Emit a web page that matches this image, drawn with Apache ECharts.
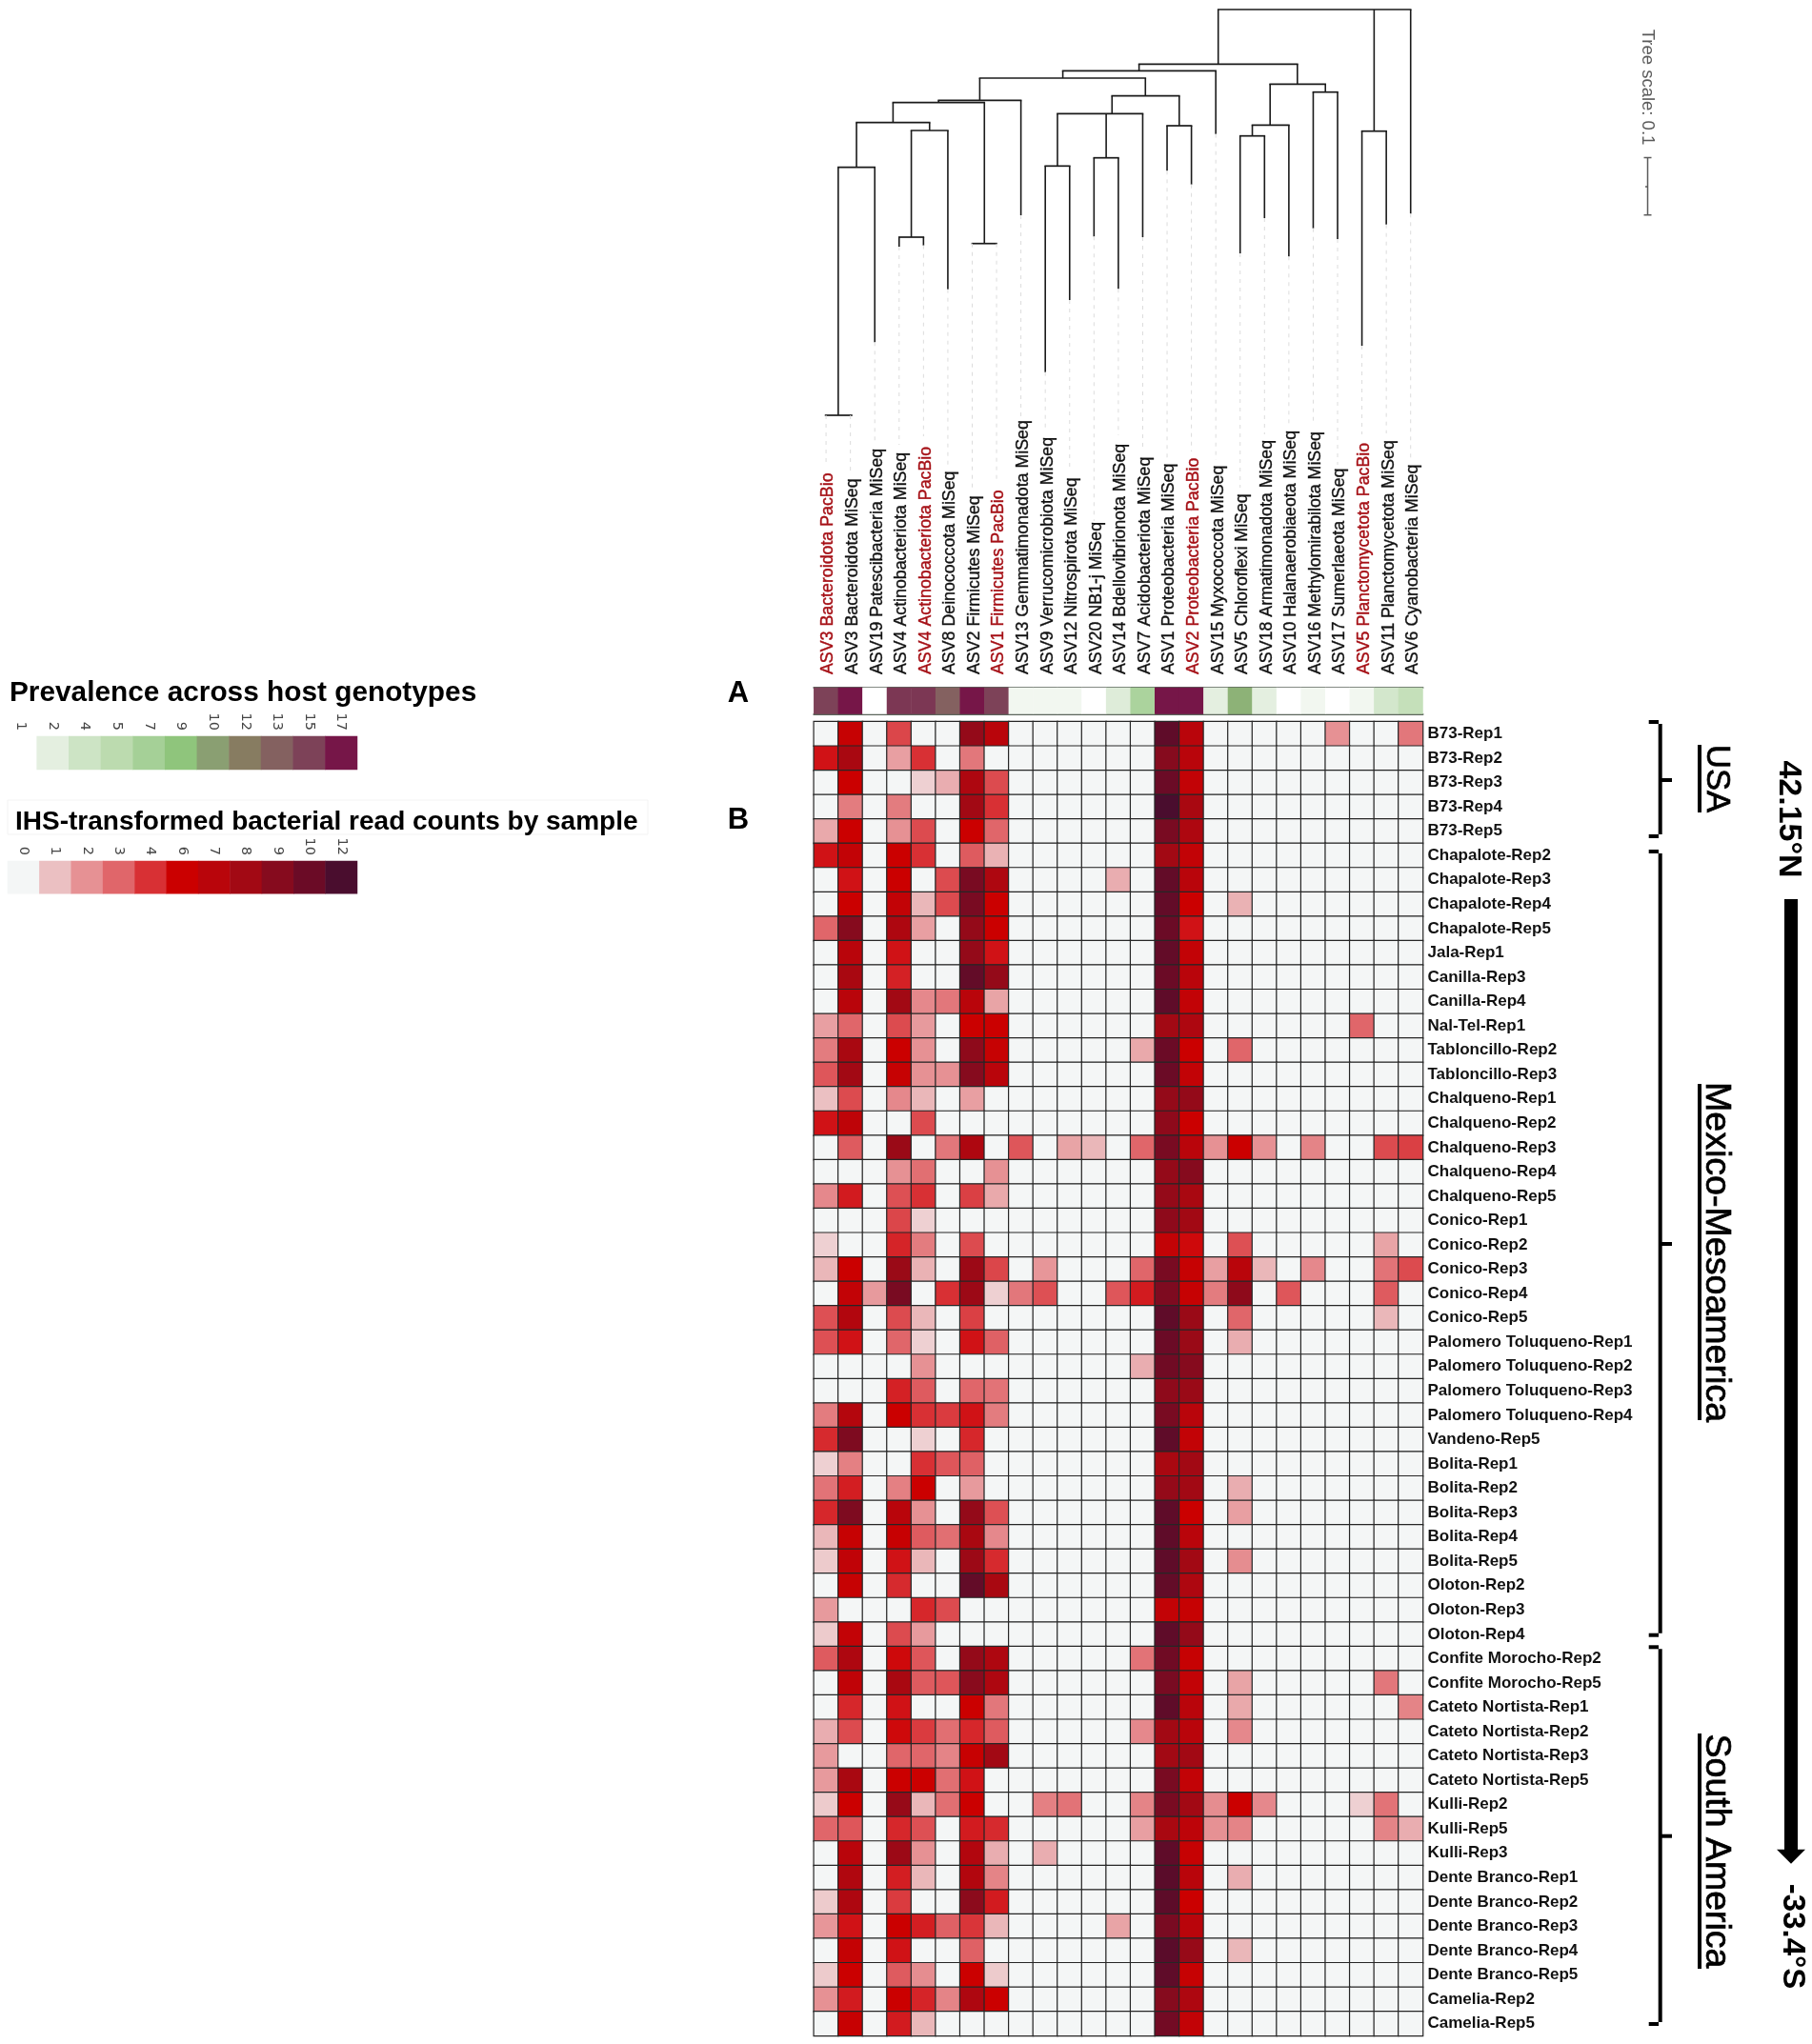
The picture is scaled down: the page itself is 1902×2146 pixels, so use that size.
<!DOCTYPE html>
<html><head><meta charset="utf-8">
<style>html,body{margin:0;padding:0;background:#fff}#c{width:1902px;height:2146px}</style>
<script src="https://cdn.jsdelivr.net/npm/echarts@6/dist/echarts.min.js"></script>
</head><body><div id="c"></div>
<script>
const asvLabels = ["ASV3 Bacteroidota PacBio","ASV3 Bacteroidota MiSeq","ASV19 Patescibacteria MiSeq","ASV4 Actinobacteriota MiSeq","ASV4 Actinobacteriota PacBio","ASV8 Deinococcota MiSeq","ASV2 Firmicutes MiSeq","ASV1 Firmicutes PacBio","ASV13 Gemmatimonadota MiSeq","ASV9 Verrucomicrobiota MiSeq","ASV12 Nitrospirota MiSeq","ASV20 NB1-j MiSeq","ASV14 Bdellovibrionota MiSeq","ASV7 Acidobacteriota MiSeq","ASV1 Proteobacteria MiSeq","ASV2 Proteobacteria PacBio","ASV15 Myxococcota MiSeq","ASV5 Chloroflexi MiSeq","ASV18 Armatimonadota MiSeq","ASV10 Halanaerobiaeota MiSeq","ASV16 Methylomirabilota MiSeq","ASV17 Sumerlaeota MiSeq","ASV5 Planctomycetota PacBio","ASV11 Planctomycetota MiSeq","ASV6 Cyanobacteria MiSeq"];
const samples = ["B73-Rep1","B73-Rep2","B73-Rep3","B73-Rep4","B73-Rep5","Chapalote-Rep2","Chapalote-Rep3","Chapalote-Rep4","Chapalote-Rep5","Jala-Rep1","Canilla-Rep3","Canilla-Rep4","Nal-Tel-Rep1","Tabloncillo-Rep2","Tabloncillo-Rep3","Chalqueno-Rep1","Chalqueno-Rep2","Chalqueno-Rep3","Chalqueno-Rep4","Chalqueno-Rep5","Conico-Rep1","Conico-Rep2","Conico-Rep3","Conico-Rep4","Conico-Rep5","Palomero Toluqueno-Rep1","Palomero Toluqueno-Rep2","Palomero Toluqueno-Rep3","Palomero Toluqueno-Rep4","Vandeno-Rep5","Bolita-Rep1","Bolita-Rep2","Bolita-Rep3","Bolita-Rep4","Bolita-Rep5","Oloton-Rep2","Oloton-Rep3","Oloton-Rep4","Confite Morocho-Rep2","Confite Morocho-Rep5","Cateto Nortista-Rep1","Cateto Nortista-Rep2","Cateto Nortista-Rep3","Cateto Nortista-Rep5","Kulli-Rep2","Kulli-Rep5","Kulli-Rep3","Dente Branco-Rep1","Dente Branco-Rep2","Dente Branco-Rep3","Dente Branco-Rep4","Dente Branco-Rep5","Camelia-Rep2","Camelia-Rep5"];
const prevalence = [15,17,1,15.5,15.5,13,17,15,1.5,1.5,1.5,1,2.5,6.5,17,17,2,9.5,2,1,1.5,1,1.5,3.5,4.5];
const readCounts = [
[0,6.3,0,3.6,0,0,8.5,7,0,0,0,0,0,0,10.7,7,0,0,0,0,0,2,0,0,2.6],
[5,7.7,0,1.7,4,0,2.6,0,0,0,0,0,0,0,9,7,0,0,0,0,0,0,0,0,0],
[0,6,0,0,0.7,1.4,7.5,3.5,0,0,0,0,0,0,10,6.5,0,0,0,0,0,0,0,0,0],
[0,2.5,0,2.5,0,0,8,4,0,0,0,0,0,0,12,7.7,0,0,0,0,0,0,0,0,0],
[1.5,6,0,2,3.5,0,6,3,0,0,0,0,0,0,9.5,7.5,0,0,0,0,0,0,0,0,0],
[5,6.5,0,6,4,0,3.2,1.3,0,0,0,0,0,0,8,6.5,0,0,0,0,0,0,0,0,0],
[0,5,0,6,0,3.5,9.5,7.5,0,0,0,0,1.4,0,10.5,7,0,0,0,0,0,0,0,0,0],
[0,6,0,6.5,1.2,3.5,9.5,6,0,0,0,0,0,0,10.5,6,0,1.3,0,0,0,0,0,0,0],
[3,9,0,7.5,1.7,0,8.5,6,0,0,0,0,0,0,10,5,0,0,0,0,0,0,0,0,0],
[0,7,0,5,0,0,8.5,5,0,0,0,0,0,0,10.5,6.5,0,0,0,0,0,0,0,0,0],
[0,7.7,0,4.5,0,0,10.5,8.5,0,0,0,0,0,0,10,7,0,0,0,0,0,0,0,0,0],
[0,7,0,8,2.2,2.6,7,1.6,0,0,0,0,0,0,10.7,6.5,0,0,0,0,0,0,0,0,0],
[1.7,3,0,3.5,1.8,0,6,6,0,0,0,0,0,0,8,7.5,0,0,0,0,0,0,3,0,0],
[2.5,7.7,0,6,2,0,8.7,6.3,0,0,0,0,0,1.5,10,6,0,3,0,0,0,0,0,0,0],
[3.3,8,0,6.3,2,2,9,7,0,0,0,0,0,0,10,6.5,0,0,0,0,0,0,0,0,0],
[1,3.5,0,2.2,1.2,0,1.7,0,0,0,0,0,0,0,8.5,8.5,0,0,0,0,0,0,0,0,0],
[5,6.7,0,0,3.5,0,0,0,0,0,0,0,0,0,8.7,6,0,0,0,0,0,0,0,0,0],
[0,3.2,0,8.3,0,2.6,7.5,0,3.3,0,1.6,1.2,0,3,9.5,7,2,6,2,0,2.3,0,0,3.5,3.7],
[0,0,0,2,2.8,0,0,2,0,0,0,0,0,0,8.5,9,0,0,0,0,0,0,0,0,0],
[2.2,4.7,0,3.4,4,0,3.7,1.5,0,0,0,0,0,0,8.5,7.7,0,0,0,0,0,0,0,0,0],
[0,0,0,3.6,0.7,0,0,0,0,0,0,0,0,0,8.7,8,0,0,0,0,0,0,0,0,0],
[0.7,0,0,4.4,2.5,0,3.5,0,0,0,0,0,0,0,6.5,5.5,0,3.4,0,0,0,0,0,1.6,0],
[1.2,6,0,8.3,1.3,0,8.2,3.6,0,1.9,0,0,0,3,9.5,6.3,1.7,7,1.2,0,2.2,0,0,2.7,3.5],
[0,6.5,1.8,9.5,0,4,8.2,0.7,2.6,3.4,0,0,3.3,4.7,9.3,6.3,2.5,8.7,0,3.3,0,0,0,3.2,0],
[3.4,7.3,0,3.5,1.2,0,3.7,0,0,0,0,0,0,0,10.7,8.3,0,3,0,0,0,0,0,1.2,0],
[3.4,5,0,3,0.7,0,5,3.1,0,0,0,0,0,0,10,8.3,0,1.4,0,0,0,0,0,0,0],
[0,0,0,0,2,0,0,0,0,0,0,0,0,1.4,9.8,9,0,0,0,0,0,0,0,0,0],
[0,0,0,4.5,3.2,0,3,2.7,0,0,0,0,0,0,8.7,8.3,0,0,0,0,0,0,0,0,0],
[2.5,7.2,0,6,4,3.8,5,2.5,0,0,0,0,0,0,9.5,7,0,0,0,0,0,0,0,0,0],
[4.2,9.3,0,0,0.7,0,4.3,0,0,0,0,0,0,0,10.7,6.5,0,0,0,0,0,0,0,0,0],
[0.7,2.4,0,0,4,3.3,3.1,0,0,0,0,0,0,0,7.7,8,0,0,0,0,0,0,0,0,0],
[2.7,4.6,0,2.4,6,0,1.8,0,0,0,0,0,0,0,8.5,8,0,1.4,0,0,0,0,0,0,0],
[4.3,9.3,0,7,2,0,8.5,3.4,0,0,0,0,0,0,10.7,6,0,1.7,0,0,0,0,0,0,0],
[1.2,6.3,0,6.2,3.2,2.8,7.7,2.2,0,0,0,0,0,0,10.7,7,0,0,0,0,0,0,0,0,0],
[0.8,6.6,0,5,1.2,0,8.2,4.2,0,0,0,0,0,0,10.7,8,0,2.1,0,0,0,0,0,0,0],
[0,6.3,0,4.2,0,0,10.5,7.7,0,0,0,0,0,0,10.5,7.5,0,0,0,0,0,0,0,0,0],
[1.8,0,0,0,4.3,3.5,0,0,0,0,0,0,0,0,6.5,6.3,0,0,0,0,0,0,0,0,0],
[0.8,6.5,0,3.5,1.8,0,0,0,0,0,0,0,0,0,10.7,8.5,0,0,0,0,0,0,0,0,0],
[3.2,7.5,0,5.5,3.3,0,8.5,7.5,0,0,0,0,0,2.7,9.8,6.3,0,0,0,0,0,0,0,0,0],
[0,6.6,0,7.7,3.2,3.3,8.9,7.5,0,0,0,0,0,0,9.5,6.5,0,1.6,0,0,0,0,0,2.6,0],
[0,4.3,0,5,0,0,6,2.6,0,0,0,0,0,0,10.7,7,0,1.5,0,0,0,0,0,0,2.3],
[1.4,3.5,0,5.5,3.8,2.8,4.3,3.2,0,0,0,0,0,2.2,8,7,0,2.2,0,0,0,0,0,0,0],
[1.8,0,0,3,3,2.3,6.2,8,0,0,0,0,0,0,8,8,0,0,0,0,0,0,0,0,0],
[1.8,7.7,0,6,6,2.8,5,0,0,0,0,0,0,0,9.5,6.5,0,0,0,0,0,0,0,0,0],
[0.8,6,0,8.4,1.2,2.8,6,0,0,2.4,2.7,0,0,2.3,9.5,8,2.1,6,2.2,0,0,0,0.7,2.7,0],
[3,3.3,0,4.3,3.4,0,4.7,4.2,0,0,0,0,0,1.7,7.7,6.8,2,2.3,0,0,0,0,0,2.3,1.4],
[0,7,0,8.2,2,0,7.3,1.4,0,1.4,0,0,0,0,10.7,6.3,0,0,0,0,0,0,0,0,0],
[0,7.4,0,4.6,1.2,0,7.3,2.3,0,0,0,0,0,0,11,7,0,1.4,0,0,0,0,0,0,0],
[0.8,7.5,0,3.8,0,0,8.8,4.7,0,0,0,0,0,0,10.8,6,0,0,0,0,0,0,0,0,0],
[1.9,5,0,6,4.6,3.1,3.9,1.2,0,0,0,0,1.6,0,9.5,7,0,0,0,0,0,0,0,0,0],
[0,6.4,0,5,0,0,3.1,0,0,0,0,0,0,0,11,8.4,0,1.2,0,0,0,0,0,0,0],
[0.8,6,0,3.2,2.1,0,6,0.8,0,0,0,0,0,0,10.7,6.3,0,0,0,0,0,0,0,0,0],
[2,4.7,0,6,4.4,2.3,7.5,6,0,0,0,0,0,0,9,7.5,0,0,0,0,0,0,0,0,0],
[0,6.2,0,4.7,1.2,0,0,0,0,0,0,0,0,0,9.7,6.5,0,0,0,0,0,0,0,0,0]
];
const prevalenceTicks = [1,2,4,5,7,9,10,12,13,15,17];
const readTicks = [0,1,2,3,4,6,7,8,9,10,12];
const prevalenceColors = ['#ffffff','#e4efe0','#d8e9d2','#cde4c5','#bcdbaf','#b0d5a3','#a5d097','#9acb89','#8fc57c','#8a9f72','#898d6a','#877c61','#846160','#805059','#7d4258','#7a2c50','#761648'];
const readColors = ['#f4f6f6','#ebc0c2','#e69194','#e0666a','#d83034','#d01216','#cb0000','#b9050b','#a20914','#860b1e','#6b0b26','#5a0c2a','#4a0d2e'];
// tree branches: x in column units, y in tree depth
const treeVertical = [[0.5,175.7,436],[2,175.7,359.3],[1.25,128.7,175.7],[4.25,128.7,137],[3.5,137,249],[3,249,259],[4,249,257.7],[5,137,303.7],[2.75,107.7,128.7],[6.5,107.7,255.7],[4.62,105.3,107.7],[8,105.3,226],[6.31,82,105.3],[13.11,82,100.7],[11.74,100.7,119.3],[9.5,119.3,174.3],[9,174.3,390.7],[10,174.3,315],[11.5,119.3,165.7],[11,165.7,248.3],[12,165.7,303.3],[13,119.3,249],[14.5,100.7,132],[14,132,179.3],[15,132,193.7],[9.72,74.3,82],[16,74.3,140.7],[12.85,67.3,74.3],[19.35,67.3,88.3],[18.23,88.3,131.3],[19,131.3,269.3],[17.5,131.3,142.7],[17,142.7,266],[18,142.7,229],[20.5,88.3,96.7],[20,96.7,239.7],[21,96.7,251],[16.1,10,67.3],[22.5,10,137.7],[22,137.7,363],[23,137.7,235.7],[24,10,224.3]];
const treeHorizontal = [[436,-0.02,1.05],[175.7,0.5,2],[128.7,1.25,4.25],[137,3.5,5],[249,3,4],[107.7,2.75,6.5],[255.7,6,7],[105.3,4.62,8],[82,6.31,13.11],[100.7,11.74,14.5],[119.3,9.5,13],[174.3,9,10],[165.7,11,12],[132,14,15],[74.3,9.72,16],[67.3,12.85,19.35],[88.3,18.23,20.5],[131.3,17.5,19],[142.7,17,18],[96.7,20,21],[10,16.1,24],[137.7,22,23]];
const guideTips = [436,436,359.3,259,257.7,303.7,255.7,255.7,226,390.7,315,248.3,303.3,249,179.3,193.7,140.7,266,229,269.3,239.7,251,363,235.7,224.3];
const guideEnds = [488,497,466,467,458,488,513,507,437,450,494,547,457,473,482,474,483,512,456,448,445,488,456,455,483];
const isPacBio = l => l.endsWith('PacBio');

const FONT = '"Liberation Sans", Arial, sans-serif';
const L = 854.3, W = 639.2;

function grid(left, top, width, height){ return {left, top, width, height, containLabel:false}; }
const cellsOf = [];
readCounts.forEach((r,y)=>r.forEach((v,x)=>cellsOf.push([x,y,v])));

const txt = (x,y,text,size,opt={}) => ({type:'text',x,y,rotation:opt.rot||0,silent:true,z:10,style:{text,font:(opt.bold?'bold ':'')+size+'px '+FONT,fill:opt.fill||'#000',align:opt.align||'center',verticalAlign:'middle',stroke:opt.heavy?'#000':null,lineWidth:opt.heavy||0}});
const seg = (x1,y1,x2,y2,w,col='#000') => ({type:'line',silent:true,z:10,shape:{x1,y1,x2,y2},style:{stroke:col,lineWidth:w}});
function bracket(top,mid,bottom){
  return [seg(1742.7,top+2,1742.7,bottom-2,4),seg(1730.7,top,1741,top,4),seg(1730.7,bottom,1741,bottom,4),seg(1742.7,mid,1755,mid,4)];
}
const R90 = -Math.PI/2;

const option = {
  animation:false, backgroundColor:'#fff',
  grid:[grid(L,0,W,720),grid(L,722,W,27.5),grid(L,757.7,W,1379.7),grid(5,773,370,35),grid(8,904,367,34.3)],
  xAxis:[
    {gridIndex:0,type:'value',min:-0.5,max:24.5,show:false},
    {gridIndex:1,type:'category',data:asvLabels,position:'top',axisLine:{lineStyle:{color:'#5c665c',width:2}},axisTick:{show:false},
      axisLabel:{interval:0,rotate:-90,margin:14,fontFamily:FONT,fontSize:17.8,padding:[5,0,0,0],
        formatter:(v)=>'{'+(isPacBio(v)?'r':'k')+'|'+v+'}',
        rich:{r:{fontFamily:FONT,fontSize:17.8,color:'#a50f15',textBorderColor:'#a50f15',textBorderWidth:0.4},
              k:{fontFamily:FONT,fontSize:17.8,color:'#111',textBorderColor:'#111',textBorderWidth:0.35}}},splitLine:{show:false}},
    {gridIndex:1,type:'category',data:asvLabels,position:'bottom',axisLine:{lineStyle:{color:'#5c665c',width:2}},axisTick:{show:false},axisLabel:{show:false},splitLine:{show:false}},
    {gridIndex:2,type:'category',data:asvLabels,show:false},
    {gridIndex:3,type:'category',data:prevalenceTicks,position:'top',axisLine:{show:false},axisTick:{show:false},axisLabel:{interval:0,rotate:90,margin:6,fontFamily:'"DejaVu Sans"',fontSize:14.5,color:'#444'}},
    {gridIndex:4,type:'category',data:readTicks,position:'top',axisLine:{show:false},axisTick:{show:false},axisLabel:{interval:0,rotate:90,margin:6,fontFamily:'"DejaVu Sans"',fontSize:14.5,color:'#444'}}
  ],
  yAxis:[
    {gridIndex:0,type:'value',min:0,max:720,inverse:true,show:false},
    {gridIndex:1,type:'category',data:['Prevalence'],show:false},
    {gridIndex:2,type:'category',data:samples,inverse:true,position:'right',axisLine:{show:false},axisTick:{show:false},
      axisLabel:{interval:0,margin:5,fontFamily:FONT,fontSize:17,fontWeight:'bold',color:'#111',lineHeight:20,padding:[4,0,0,0]}},
    {gridIndex:3,type:'category',data:['p'],show:false},
    {gridIndex:4,type:'category',data:['r'],show:false}
  ],
  visualMap:[
    {show:false,type:'continuous',min:1,max:17,dimension:2,seriesIndex:[1,3],inRange:{color:prevalenceColors}},
    {show:false,type:'continuous',min:0,max:12,dimension:2,seriesIndex:[2,4],inRange:{color:readColors}}
  ],
  series:[
    {type:'custom',xAxisIndex:0,yAxisIndex:0,silent:true,clip:false,data:[[0]],
      renderItem:(p,api)=>{
        if(p.dataIndex!==0) return;
        const kids=[];
        const c=(x,y)=>api.coord([x,y]);
        treeVertical.forEach(([x,a,b])=>{const A=c(x,a),B=c(x,b);kids.push({type:'line',shape:{x1:A[0],y1:A[1],x2:B[0],y2:B[1]},style:{stroke:'#1a1a1a',lineWidth:1.6}});});
        treeHorizontal.forEach(([y,a,b])=>{const A=c(a,y),B=c(b,y);kids.push({type:'line',shape:{x1:A[0]-0.8,y1:A[1],x2:B[0]+0.8,y2:B[1]},style:{stroke:'#1a1a1a',lineWidth:1.7}});});
        guideTips.forEach((t,i)=>{const A=c(i,t),B=c(i,guideEnds[i]);kids.push({type:'line',shape:{x1:A[0],y1:A[1],x2:B[0],y2:B[1]},style:{stroke:'#dcdcdc',lineWidth:1,lineDash:[4,5]}});});
        return {type:'group',children:kids};
      }},
    {type:'heatmap',xAxisIndex:1,yAxisIndex:1,data:prevalence.map((v,i)=>[i,0,v]),itemStyle:{borderWidth:0},emphasis:{disabled:true},silent:true},
    {type:'heatmap',xAxisIndex:3,yAxisIndex:2,data:cellsOf,itemStyle:{borderWidth:1.2,borderColor:'#262626'},emphasis:{disabled:true},silent:true},
    {type:'heatmap',xAxisIndex:4,yAxisIndex:3,data:prevalenceTicks.map((v,i)=>[i,0,v]),itemStyle:{borderWidth:0},emphasis:{disabled:true},silent:true},
    {type:'heatmap',xAxisIndex:5,yAxisIndex:4,data:readTicks.map((v,i)=>[i,0,v]),itemStyle:{borderWidth:0},emphasis:{disabled:true},silent:true}
  ],
  graphic:{elements:[
    {type:'rect',silent:true,shape:{x:8,y:840,width:672,height:36},style:{fill:'#fff',stroke:'#f3f3f3',lineWidth:1}},
    txt(10,728,'Prevalence across host genotypes',29.8,{bold:true,align:'left'}),
    txt(16,863,'IHS-transformed bacterial read counts by sample',28,{bold:true,align:'left'}),
    txt(775,728,'A',31,{bold:true}),
    txt(775,861,'B',31,{bold:true}),
    txt(1729,91.5,'Tree scale: 0.1',18.5,{rot:R90,fill:'#5a5a5a'}),
    seg(1729.5,165.5,1729.5,225.7,1.5,'#5a5a5a'),seg(1725.5,165.5,1733.5,165.5,1.5,'#5a5a5a'),seg(1725.5,225.7,1733.5,225.7,1.5,'#5a5a5a'),seg(1727,196,1729.5,196,1.5,'#5a5a5a'),
    ...bracket(758,819,878),...bracket(894,1306,1716.7),...bracket(1729.3,1927.7,2125),
    txt(1801.5,817.5,'USA',34.5,{rot:R90,heavy:0.7}),seg(1784,782,1784,853,4),
    txt(1801.5,1314.5,'Mexico-Mesoamerica',37.6,{rot:R90,heavy:0.7}),seg(1784,1138,1784,1491,4),
    txt(1801.5,1943.5,'South America',37.5,{rot:R90,heavy:0.7}),seg(1784,1820,1784,2067,4),
    txt(1877,860,'42.15°N',34,{bold:true,rot:R90}),
    txt(1881.5,2033,'-33.4°S',33,{bold:true,rot:R90}),
    {type:'rect',silent:true,shape:{x:1873,y:944,width:14,height:998},style:{fill:'#000'}},
    {type:'polygon',silent:true,shape:{points:[[1865,1941.7],[1895,1941.7],[1880,1956.7]]},style:{fill:'#000'}}
  ]}
};
const chart = echarts.init(document.getElementById('c'),null,{renderer:'canvas',width:1902,height:2146});
chart.setOption(option);
</script></body></html>
